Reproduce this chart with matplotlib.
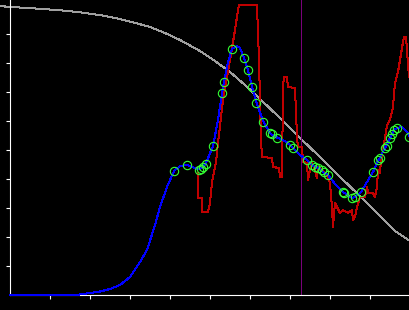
import matplotlib
matplotlib.use("Agg")
import matplotlib.pyplot as plt

# reference curve (gray)
ref_x = [-10, 0, 18, 37, 50, 70, 91, 107, 123, 140, 155, 170, 190, 205, 220,
         235, 250, 270, 290, 310, 330, 350, 372, 385, 400]
ref_y = [289, 288, 287, 285.7, 284.7, 282.7, 279.7, 276.7, 272.7, 268, 262,
         255, 244, 234, 223, 210, 196, 177, 157, 138, 118, 99, 77, 64, 54]

# fitted curve (blue)
fit_x = [0, 50, 70, 80, 90, 100, 110, 120, 130, 137, 145, 150, 157, 164, 170,
         177, 185, 189, 192, 196, 203, 208, 212, 214, 218, 222, 227, 230, 234,
         238, 242, 247, 253, 260, 262, 268, 275, 280, 283, 290, 297, 302, 308,
         313, 318, 325, 333, 342, 345, 351, 357, 363, 368, 375, 380, 384, 387,
         392, 397, 400]
fit_y = [0, 0, 0.5, 2, 3.5, 6, 10, 18, 33, 45, 70, 88, 108, 124, 129,
         130, 127, 126, 127, 132, 149, 175, 202, 213, 233, 246, 249, 247, 237,
         225, 208, 191, 174, 162, 160, 157, 154, 150, 147, 140, 135, 130, 127,
         123, 120, 111, 103, 97, 98, 103, 113, 123, 134, 147, 157, 165, 167,
         168, 163, 158]

# observed points (green circles)
obs_x = [164, 177, 189, 191, 193, 196, 203, 212, 214, 222, 234, 238, 242, 246,
         253, 260, 262, 267, 280, 283, 297, 302, 305, 308, 312, 314, 318, 333,
         334, 342, 345, 351, 363, 368, 370, 375, 377, 380, 382, 384, 387, 399]
obs_y = [124, 130, 125, 126, 128, 131, 149, 202, 213, 246, 237, 225, 208, 192,
         173, 162, 161, 157, 150, 147, 135, 130, 128, 127, 125, 123, 120, 103,
         102, 97, 98, 103, 123, 135, 137, 147, 149, 157, 161, 165, 167, 158]

# raw series (red)
raw_x = [188, 188, 192, 192, 198, 200, 202, 206, 208, 213, 220, 225, 228, 229,
         247, 248, 249, 250, 251, 252, 262, 263, 269, 270, 272, 273, 274, 277,
         278, 285, 287, 288, 292, 293, 297, 298, 300, 302, 305, 307, 308, 312,
         315, 318, 320, 322, 323, 325, 327, 330, 333, 338, 342, 343, 345, 347,
         350, 355, 357, 358, 363, 365, 367, 368, 370, 371, 373, 377, 380, 383,
         385, 388, 390, 393, 394, 396, 399, 400]
raw_y = [122, 97, 97, 83, 83, 92, 113, 133, 152, 195, 235, 265, 285, 290,
         290, 262, 235, 195, 155, 138, 137, 128, 127, 118, 118, 208, 218, 218,
         208, 207, 158, 148, 148, 133, 132, 115, 125, 132, 125, 117, 128, 125,
         122, 118, 112, 88, 68, 92, 88, 82, 85, 82, 85, 75, 78, 88,
         98, 98, 108, 102, 102, 98, 108, 125, 122, 135, 145, 170, 175, 188,
         212, 223, 235, 253, 258, 258, 218, 218]

marker_x = 291

x_ticks = [40, 80, 120, 160, 200, 240, 280, 320, 360]
y_ticks = [29, 58, 87, 116, 145, 174, 203, 232, 261]

plt.rcParams["lines.antialiased"] = False

fig = plt.figure(figsize=(4.1, 3.1), dpi=100, facecolor="black")
ax = fig.add_axes([0, 0, 1, 1], facecolor="black")

ax.plot(ref_x, ref_y, color="#a0a0a0", lw=0.72, clip_on=False)
ax.vlines(marker_x, 0, 295, color="#7a007a", lw=0.72, antialiased=False)
ax.plot(raw_x, raw_y, color="#c00000", lw=0.72)
ax.plot(fit_x, fit_y, color="#0000ff", lw=0.72, zorder=3)
ax.plot(obs_x, obs_y, "o", ms=6, mfc="none", mec="#33ff33", mew=0.8, zorder=4)

ax.set_xlim(-10, 400)
ax.set_ylim(-15, 295)

for s in ["top", "right"]:
    ax.spines[s].set_visible(False)
ax.spines["left"].set_position(("data", 0))
ax.spines["bottom"].set_position(("data", 0))
ax.spines["left"].set_bounds(0, 295)
ax.spines["bottom"].set_bounds(0, 400)
for s in ["left", "bottom"]:
    ax.spines[s].set_color("white")
    ax.spines[s].set_linewidth(0.8)

ax.set_xticks(x_ticks)
ax.set_yticks(y_ticks)
ax.set_xticklabels([])
ax.set_yticklabels([])
ax.tick_params(direction="out", length=3, width=0.8, color="white")

fig.savefig("out.png", dpi=100, facecolor="black")
